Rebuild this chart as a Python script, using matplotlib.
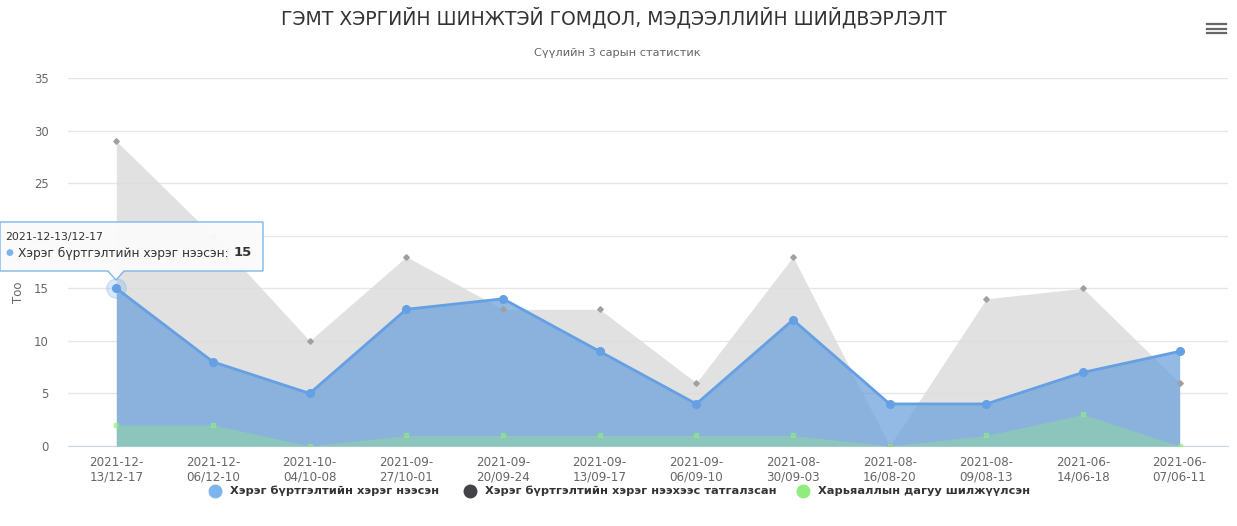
import matplotlib
import matplotlib.pyplot as plt
from matplotlib.lines import Line2D
import numpy as np

matplotlib.use("Agg")

periods = [
    "2021-12-\n13/12-17", "2021-12-\n06/12-10", "2021-10-\n04/10-08",
    "2021-09-\n27/10-01", "2021-09-\n20/09-24", "2021-09-\n13/09-17",
    "2021-09-\n06/09-10", "2021-08-\n30/09-03", "2021-08-\n16/08-20",
    "2021-08-\n09/08-13", "2021-06-\n14/06-18", "2021-06-\n07/06-11",
]
opened = [15, 8, 5, 13, 14, 9, 4, 12, 4, 4, 7, 9]
refused = [29, 20, 10, 18, 13, 13, 6, 18, 0, 14, 15, 6]
transferred = [2, 2, 0, 1, 1, 1, 1, 1, 0, 1, 3, 0]

names = [
    "Хэрэг бүртгэлтийн хэрэг нээсэн",
    "Хэрэг бүртгэлтийн хэрэг нээхээс татгалзсан",
    "Харьяаллын дагуу шилжүүлсэн",
]
title = "ГЭМТ ХЭРГИЙН ШИНЖТЭЙ ГОМДОЛ, МЭДЭЭЛЛИЙН ШИЙДВЭРЛЭЛТ"
subtitle = "Сүүлийн 3 сарын статистик"
yticks = [0, 5, 10, 15, 20, 25, 30, 35]

blue = "#7cb5ec"
dark = "#434348"
green = "#90ed7d"

plt.rcParams["font.family"] = ["DejaVu Sans"]

W, H = 1237, 526
fig = plt.figure(figsize=(W / 100, H / 100), dpi=100)
ax = fig.add_axes([68 / W, 1 - 446 / H, 1160 / W, 368 / H])

x = np.arange(len(periods))

# gray area (refused) behind
ax.fill_between(x, refused, color="#dcdcdc", alpha=0.85, lw=0, zorder=2)
ax.plot(x, refused, ls="none", marker="D", ms=2.8, color="#a0a0a0", zorder=4)

# blue area
ax.fill_between(x, opened, color="#6a9fdc", alpha=0.72, lw=0, zorder=3)
ax.plot(x, opened, color="#64a0e3", lw=2, marker="o", ms=5.5, zorder=6)

# green area
ax.fill_between(x, transferred, color=green, alpha=0.35, lw=0, zorder=4)
ax.plot(x, transferred, ls="none", marker="s", ms=3, color=green, alpha=0.6, zorder=5)

ax.set_xlim(-0.5, len(periods) - 0.5)
ax.set_ylim(0, 35)
ax.set_yticks(yticks)
ax.set_xticks(x)
ax.set_xticklabels(periods, color="#666666", fontsize=8.6, linespacing=1.15)
ax.tick_params(axis="y", colors="#666666", labelsize=8.4, length=0, pad=14)
ax.tick_params(axis="x", length=0, pad=7)
ax.grid(axis="y", color="#e6e6e6", lw=1, zorder=0)
for s in ["top", "right", "left"]:
    ax.spines[s].set_visible(False)
ax.spines["bottom"].set_color("#ccd6eb")
ax.set_axisbelow(True)

# highlighted point halo
ax.plot([0], [opened[0]], marker="o", ms=14, color=blue, alpha=0.3, zorder=5)

fig.text(614 / W, 1 - 18 / H, title, ha="center", va="center",
         fontsize=13.5, color="#333333")
fig.text(617 / W, 1 - 53 / H, subtitle, ha="center", va="center",
         fontsize=8.2, color="#666666")
fig.text(19 / W, 1 - 292 / H, "Тоо", rotation=90, ha="center", va="center",
         fontsize=8.5, color="#666666")

# tooltip
tip = plt.Polygon([[0 / W, 1 - 222 / H], [263 / W, 1 - 222 / H], [263 / W, 1 - 271 / H],
                   [124 / W, 1 - 271 / H], [116 / W, 1 - 280 / H], [108 / W, 1 - 271 / H],
                   [0 / W, 1 - 271 / H]], closed=True, transform=fig.transFigure,
                  facecolor="#fafafa", edgecolor=blue, lw=1, alpha=0.98, zorder=10)
fig.add_artist(tip)
fig.text(5 / W, 1 - 237 / H, "2021-12-13/12-17", fontsize=7.8, color="#333333",
         va="center", zorder=11)
fig.text(5 / W, 1 - 253 / H, "●", fontsize=6.5, color=blue, va="center", zorder=11)
tip_label = fig.text(18 / W, 1 - 253 / H, names[0] + ":", fontsize=8.8, color="#333333",
                     va="center", zorder=11)
fig.canvas.draw()
bb = tip_label.get_window_extent()
fig.text((bb.x1 + 5) / W, 1 - 252 / H, str(opened[0]), fontsize=9.5, color="#333333",
         fontweight="bold", va="center", zorder=11)

# legend
leg_items = [(215, blue), (470, dark), (803, green)]
for (lx, c), name in zip(leg_items, names):
    fig.add_artist(Line2D([lx / W], [1 - 491 / H], marker="o", ms=9, color=c,
                          transform=fig.transFigure))
    fig.text((lx + 15) / W, 1 - 491 / H, name, fontsize=8.2, fontweight="bold",
             color="#333333", va="center")

# menu icon
for yy in [24, 28.7, 33.4]:
    fig.add_artist(Line2D([1207 / W, 1226 / W], [1 - yy / H, 1 - yy / H],
                          color="#666666", lw=1.6, transform=fig.transFigure))

fig.savefig("out.png", dpi=100)
